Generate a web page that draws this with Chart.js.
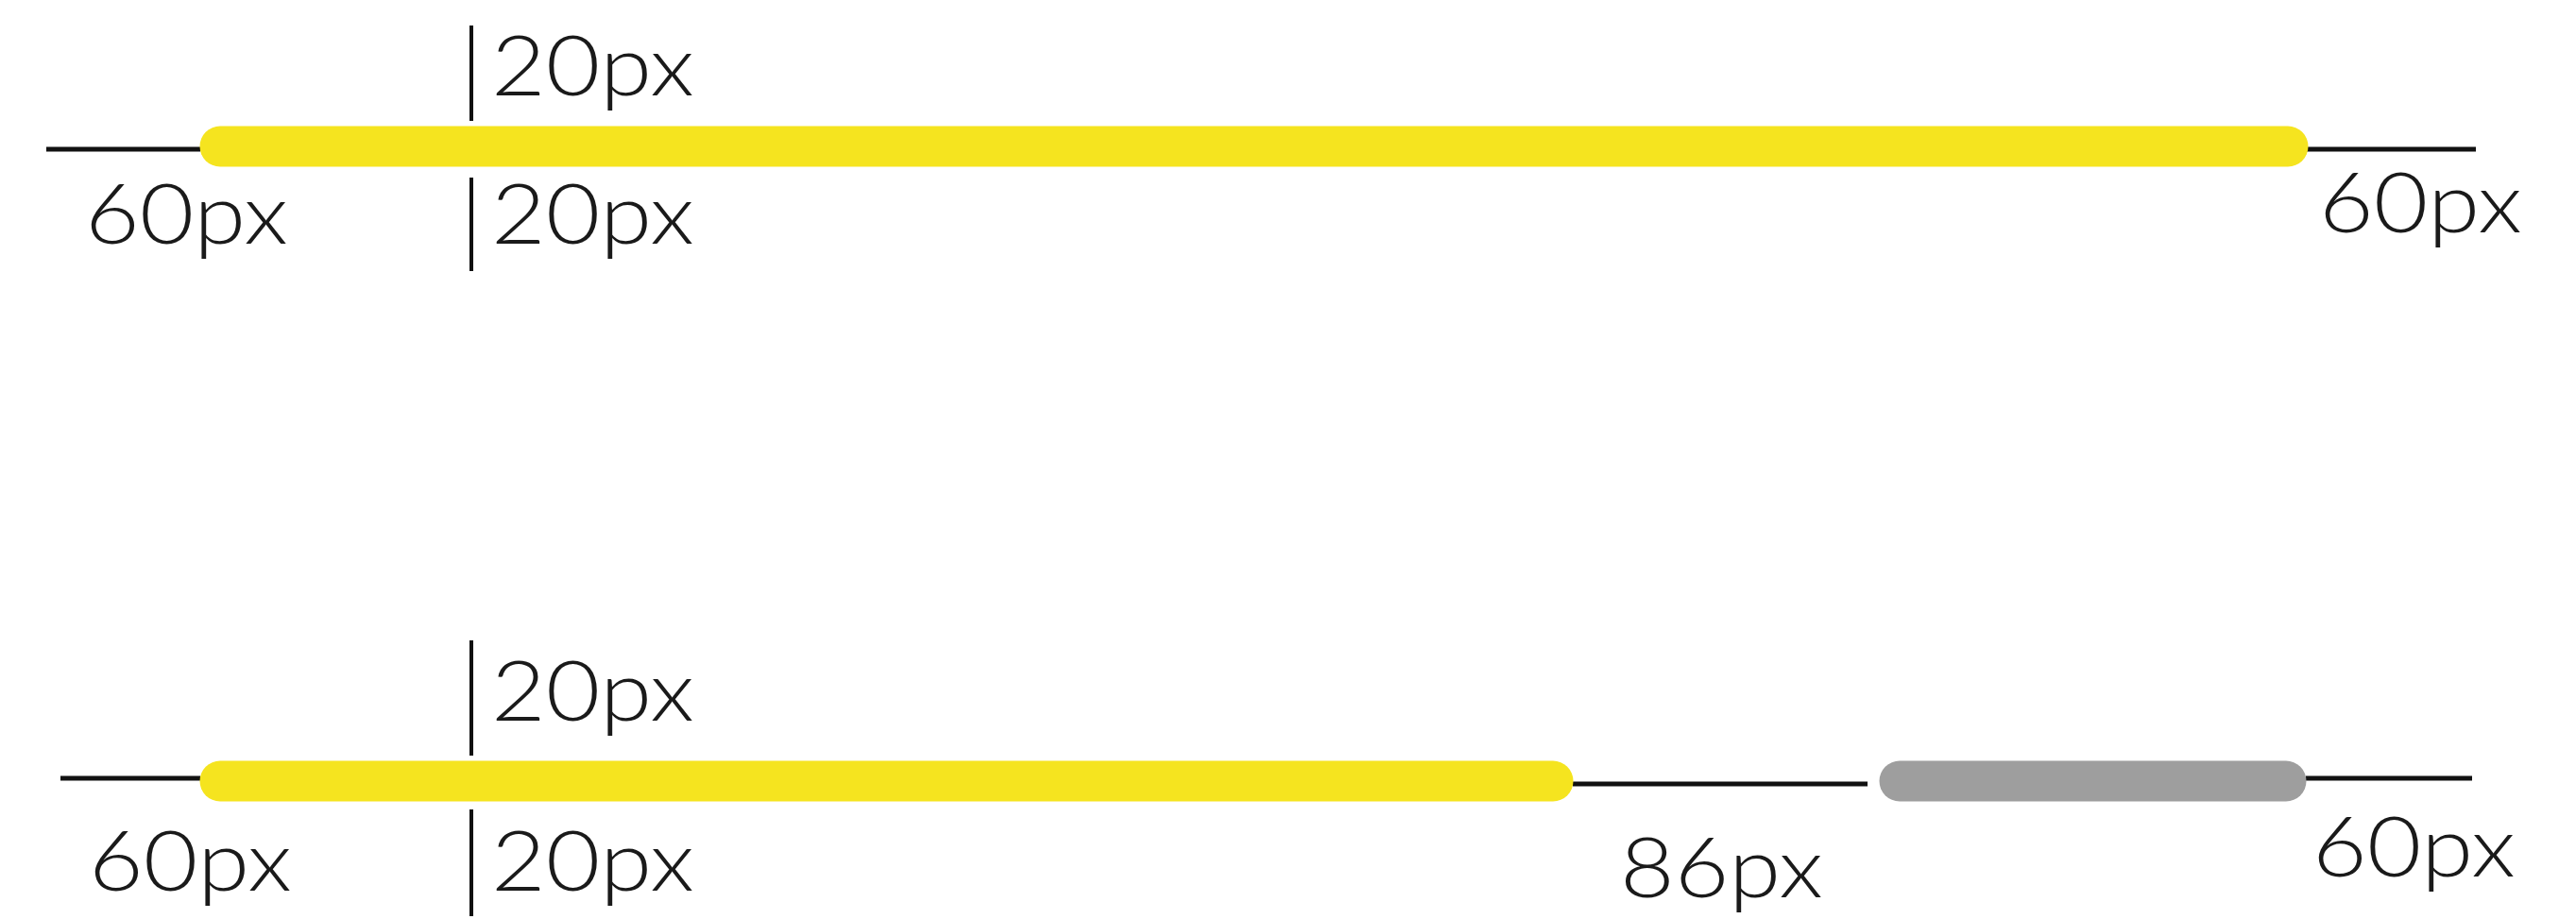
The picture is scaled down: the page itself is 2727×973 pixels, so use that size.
<!DOCTYPE html>
<html>
<head>
<meta charset="utf-8">
<script src="https://cdn.jsdelivr.net/npm/chart.js@4/dist/chart.umd.min.js"></script>
<style>
  html, body { margin: 0; padding: 0; background: #fff; overflow: hidden; }
  canvas { display: block; }
</style>
</head>
<body>
<canvas id="spacingChart" width="2727" height="973"></canvas>
<script>
// thick rounded bars (cap centres, in picture units)
const barStart = [233, 233, 2011];
const barEnd = [2422, 1644, 2420];
const barY = [155, 827, 827];
const barColors = ["#f5e41f", "#f5e41f", "#9e9e9e"];

// thin black rules
const ruleStart = [49, 2442, 64, 1665, 2441];
const ruleEnd = [212, 2621, 212, 1977, 2617];
const ruleY = [158, 158, 824, 830, 824];

// vertical markers
const tickX = [499, 499, 499, 499];
const tickTop = [27, 188, 678, 857];
const tickBottom = [128, 287, 800, 970];

// measurement labels
const labelText = ["20px", "60px", "20px", "60px", "20px", "60px", "20px", "86px", "60px"];
const labelX = [520, 90, 520, 2455, 520, 94, 520, 1715, 2448];
const labelY = [101, 258, 258, 246, 763, 943, 943, 950, 928];

document.addEventListener("DOMContentLoaded", function () {
  const datasets = [];

  barStart.forEach(function (s, i) {
    datasets.push({
      data: [{ x: s, y: barY[i] }, { x: barEnd[i], y: barY[i] }],
      borderColor: barColors[i],
      borderWidth: 43,
      borderCapStyle: "round",
      showLine: true,
      pointRadius: 0
    });
  });

  ruleStart.forEach(function (s, i) {
    datasets.push({
      data: [{ x: s, y: ruleY[i] }, { x: ruleEnd[i], y: ruleY[i] }],
      borderColor: "#111",
      borderWidth: 5,
      showLine: true,
      pointRadius: 0
    });
  });

  tickX.forEach(function (x, i) {
    datasets.push({
      data: [{ x: x, y: tickTop[i] }, { x: x, y: tickBottom[i] }],
      borderColor: "#111",
      borderWidth: 4,
      showLine: true,
      pointRadius: 0
    });
  });

  // text is stretched a little to match the wide geometric face of the original
  const labelPlugin = {
    id: "labels",
    afterDatasetsDraw(chart) {
      const c = chart.ctx;
      const sx = chart.scales.x, sy = chart.scales.y;
      c.fillStyle = "#1a1a1a";
      c.font = "300 88px Lato, 'Open Sans', sans-serif";
      c.textAlign = "left";
      c.textBaseline = "alphabetic";
      labelText.forEach(function (t, i) {
        c.save();
        c.translate(sx.getPixelForValue(labelX[i]), sy.getPixelForValue(labelY[i]));
        c.scale(1.13, 1);
        c.fillText(t, 0, 0);
        c.restore();
      });
    }
  };

  const ctx = document.getElementById("spacingChart").getContext("2d");
  new Chart(ctx, {
    type: "scatter",
    data: { datasets: datasets },
    options: {
      responsive: false,
      animation: false,
      devicePixelRatio: 1,
      layout: { padding: 0 },
      plugins: {
        legend: { display: false },
        tooltip: { enabled: false }
      },
      scales: {
        x: { type: "linear", min: 0, max: 2727, display: false },
        y: { type: "linear", min: 0, max: 973, reverse: true, display: false }
      }
    },
    plugins: [labelPlugin]
  });
});
</script>
</body>
</html>
